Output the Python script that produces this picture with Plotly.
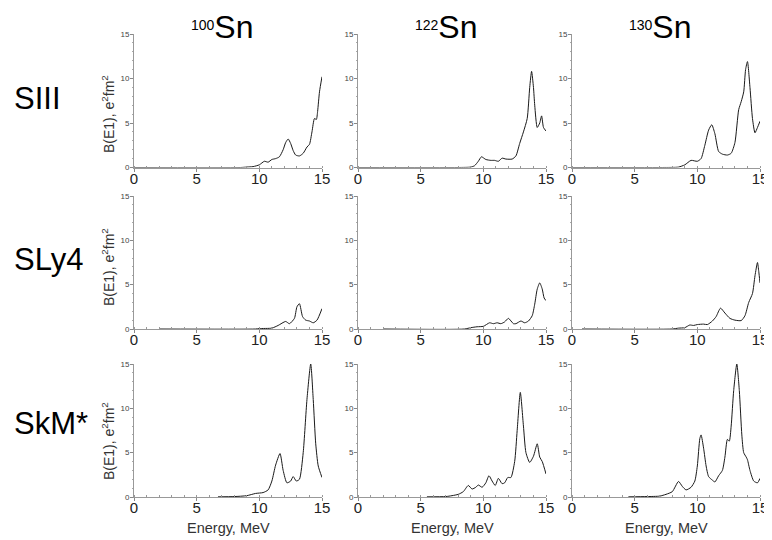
import plotly.graph_objects as go

# ---------------- data ----------------
nuclei = ["100", "122", "130"]
forces = ["SIII", "SLy4", "SkM*"]
x_ticks = [0, 5, 10, 15]
y_ticks = [0, 5, 10, 15]

# SIII
e_100_SIII = [0, 8.5, 9.0, 9.5, 10.0, 10.4, 10.7, 11.0, 11.3, 11.6, 11.9, 12.1, 12.3, 12.5, 12.7, 12.9, 13.2, 13.5, 13.8, 14.0, 14.2, 14.4, 14.55, 14.65, 14.8, 15.0]
b_100_SIII = [0, 0.0, 0.05, 0.1, 0.3, 0.7, 0.6, 0.9, 1.0, 1.2, 2.0, 2.8, 3.2, 2.7, 1.9, 1.4, 1.3, 1.6, 2.3, 2.6, 4.0, 5.5, 5.4, 6.3, 8.5, 10.2]

e_122_SIII = [0, 8.0, 9.0, 9.3, 9.6, 9.85, 10.2, 10.6, 10.9, 11.2, 11.5, 11.8, 12.3, 12.6, 12.9, 13.2, 13.5, 13.7, 13.85, 14.0, 14.1, 14.3, 14.5, 14.65, 14.8, 15.0]
b_122_SIII = [0, 0.0, 0.05, 0.2, 0.7, 1.2, 0.9, 0.8, 0.8, 0.7, 1.05, 0.95, 0.95, 1.3, 2.7, 4.0, 5.5, 9.0, 10.8, 9.0, 7.0, 4.5, 5.0, 5.8, 4.5, 4.1]

e_130_SIII = [0, 7.2, 8.5, 9.0, 9.5, 10.0, 10.3, 10.6, 10.9, 11.15, 11.4, 11.7, 12.0, 12.4, 12.7, 13.0, 13.3, 13.5, 13.7, 13.85, 14.0, 14.2, 14.4, 14.6, 14.8, 15.0]
b_130_SIII = [0, 0.0, 0.05, 0.3, 0.8, 0.7, 1.0, 2.5, 4.2, 4.8, 3.8, 1.8, 1.5, 1.4, 1.6, 2.8, 6.5, 7.4, 8.5, 11.0, 11.9, 9.0, 5.5, 3.9, 4.5, 5.2]

# SLy4
e_100_SLy4 = [2.0, 9.7, 10.0, 11.0, 11.5, 12.1, 12.4, 12.8, 13.0, 13.2, 13.45, 13.7, 14.0, 14.3, 14.6, 15.0]
b_100_SLy4 = [0, 0.0, 0.05, 0.1, 0.4, 0.85, 0.6, 1.2, 2.5, 2.85, 1.4, 1.0, 0.9, 0.7, 1.0, 2.3]

e_122_SLy4 = [2.0, 8.5, 9.0, 9.5, 10.0, 10.5, 10.8, 11.1, 11.4, 11.7, 12.0, 12.4, 12.6, 13.0, 13.3, 13.6, 13.9, 14.1, 14.3, 14.5, 14.7, 14.85, 15.0]
b_122_SLy4 = [0, 0.0, 0.15, 0.25, 0.3, 0.7, 0.6, 0.7, 0.6, 0.8, 1.2, 0.6, 0.6, 0.9, 0.7, 0.9, 1.5, 2.8, 4.5, 5.2, 4.5, 3.5, 3.2]

e_130_SLy4 = [0.8, 8.0, 8.5, 9.0, 9.4, 9.7, 10.0, 10.5, 10.8, 11.2, 11.5, 11.85, 12.2, 12.6, 13.0, 13.5, 13.8, 14.1, 14.4, 14.6, 14.8, 14.9, 15.0]
b_130_SLy4 = [0, 0.0, 0.1, 0.15, 0.45, 0.4, 0.5, 0.55, 0.5, 0.9, 1.4, 2.35, 1.8, 1.2, 1.0, 0.95, 1.5, 3.0, 4.0, 6.0, 7.5, 6.5, 5.2]

# SkM*
e_100_SkM = [6.7, 8.0, 9.0, 9.7, 10.3, 10.7, 11.0, 11.3, 11.65, 11.9, 12.2, 12.5, 12.7, 12.95, 13.2, 13.5, 13.8, 14.1, 14.3, 14.5, 14.7, 15.0]
b_100_SkM = [0.02, 0.05, 0.15, 0.4, 0.5, 0.8, 1.8, 3.6, 4.9, 3.0, 1.6, 1.8, 2.3, 1.8, 2.0, 5.0, 11.0, 15.0, 11.0, 6.0, 3.5, 2.2]

e_122_SkM = [5.5, 7.0, 7.5, 8.0, 8.4, 8.8, 9.1, 9.4, 9.6, 9.9, 10.2, 10.45, 10.7, 10.95, 11.2, 11.5, 11.7, 11.95, 12.2, 12.5, 12.7, 12.95, 13.2, 13.4, 13.7, 14.0, 14.3, 14.5, 14.7, 15.0]
b_122_SkM = [0.02, 0.05, 0.15, 0.3, 0.6, 1.3, 0.9, 1.1, 1.35, 1.1, 1.6, 2.4, 1.8, 1.3, 2.1, 1.5, 1.6, 2.2, 2.2, 4.0, 7.5, 11.8, 8.0, 5.0, 3.9, 4.6, 6.0, 4.5, 4.0, 2.6]

e_130_SkM = [4.5, 6.0, 7.0, 7.5, 8.0, 8.5, 8.8, 9.1, 9.5, 9.8, 10.0, 10.2, 10.3, 10.5, 10.7, 10.9, 11.2, 11.4, 11.7, 12.0, 12.2, 12.4, 12.55, 12.7, 12.9, 13.15, 13.35, 13.55, 13.7, 13.9, 14.0, 14.2, 14.5, 14.8, 15.0]
b_130_SkM = [0.02, 0.05, 0.1, 0.3, 0.6, 1.75, 1.2, 0.8, 1.1, 1.8, 3.5, 6.6, 7.0, 5.5, 3.5, 2.3, 1.9, 1.7, 2.4, 3.0, 4.5, 6.5, 6.3, 8.0, 12.0, 15.0, 12.0, 7.0, 5.0, 4.5, 4.2, 3.0, 1.8, 1.6, 2.1]

series = [
    [(e_100_SIII, b_100_SIII), (e_122_SIII, b_122_SIII), (e_130_SIII, b_130_SIII)],
    [(e_100_SLy4, b_100_SLy4), (e_122_SLy4, b_122_SLy4), (e_130_SLy4, b_130_SLy4)],
    [(e_100_SkM, b_100_SkM), (e_122_SkM, b_122_SkM), (e_130_SkM, b_130_SkM)],
]

# ---------------- layout ----------------
OFF = 8  # page body margin offset
W, H = 772 - OFF, 540 - OFF  # figure fits inside the window without scrollbars
col_px = [(134, 322), (358, 546), (572, 760)]
row_px = [(34, 167.5), (196, 329), (364, 497)]
ytitle_center = [114, 267, 441]
row_label_y = [98, 260, 423]


def px(v):
    return (v - OFF) / W


def py(v):
    return 1 - (v - OFF) / H


fig = go.Figure()
layout = dict(
    width=W, height=H, margin=dict(l=0, r=0, t=0, b=0, autoexpand=False),
    paper_bgcolor="white", plot_bgcolor="white", showlegend=False,
    font=dict(family="Arial, Liberation Sans, sans-serif"),
)
annotations = []

for r in range(3):
    for c in range(3):
        idx = r * 3 + c + 1
        xa = "x" if idx == 1 else f"x{idx}"
        ya = "y" if idx == 1 else f"y{idx}"
        e, b = series[r][c]
        fig.add_trace(go.Scatter(x=e, y=b, mode="lines",
                                 line=dict(color="#1a1a1a", width=1, shape="spline", smoothing=0.6),
                                 xaxis=xa, yaxis=ya, hoverinfo="skip", cliponaxis=False))
        x0, x1 = col_px[c]
        y0, y1 = row_px[r]
        layout["xaxis" if idx == 1 else f"xaxis{idx}"] = dict(
            domain=[px(x0), px(x1)], range=[0, 15], anchor=ya, automargin=False,
            tickvals=x_ticks, ticks="outside", ticklen=3, tickcolor="#888",
            ticklabelstandoff=-6,
            showline=True, linecolor="#999", linewidth=1, showgrid=False, zeroline=False,
            tickfont=dict(size=15, color="#222"),
            minor=dict(dtick=1, ticks="inside", ticklen=2, tickcolor="#999", showgrid=False),
        )
        layout["yaxis" if idx == 1 else f"yaxis{idx}"] = dict(
            domain=[py(y1), py(y0)], range=[0, 15], anchor=xa, automargin=False,
            tickvals=y_ticks, ticks="outside", ticklen=3, tickcolor="#888",
            ticklabelstandoff=-1,
            showline=True, linecolor="#999", linewidth=1, showgrid=False, zeroline=False,
            tickfont=dict(size=8, color="#444"),
            minor=dict(dtick=1, ticks="outside", ticklen=1.5, tickcolor="#aaa", showgrid=False),
        )

# column titles
for c in range(3):
    x0, x1 = col_px[c]
    annotations.append(dict(
        x=px((x0 + x1) / 2 - 6), y=py(27), xref="paper", yref="paper",
        text=f"<span style='font-size:20px'><sup>{nuclei[c]}</sup></span>Sn",
        showarrow=False, font=dict(size=32, color="black"), xanchor="center", yanchor="middle",
    ))

# row labels and y titles
for r in range(3):
    annotations.append(dict(
        x=px(12), y=py(row_label_y[r]), xref="paper", yref="paper",
        text=forces[r], showarrow=False, font=dict(size=31, color="black"),
        xanchor="left", yanchor="middle",
    ))
    annotations.append(dict(
        x=px(108), y=py(ytitle_center[r]), xref="paper", yref="paper",
        text="B(E1), e<sup>2</sup>fm<sup>2</sup>", textangle=-90, showarrow=False,
        font=dict(size=14, color="#333"), xanchor="center", yanchor="middle",
    ))

# x axis titles
for c in range(3):
    x0, x1 = col_px[c]
    annotations.append(dict(
        x=px((x0 + x1) / 2), y=py(528), xref="paper", yref="paper",
        text="Energy, MeV", showarrow=False, font=dict(size=14.5, color="#333"),
        xanchor="center", yanchor="middle",
    ))

layout["annotations"] = annotations
fig.update_layout(**layout)
fig.write_html("out.html")
